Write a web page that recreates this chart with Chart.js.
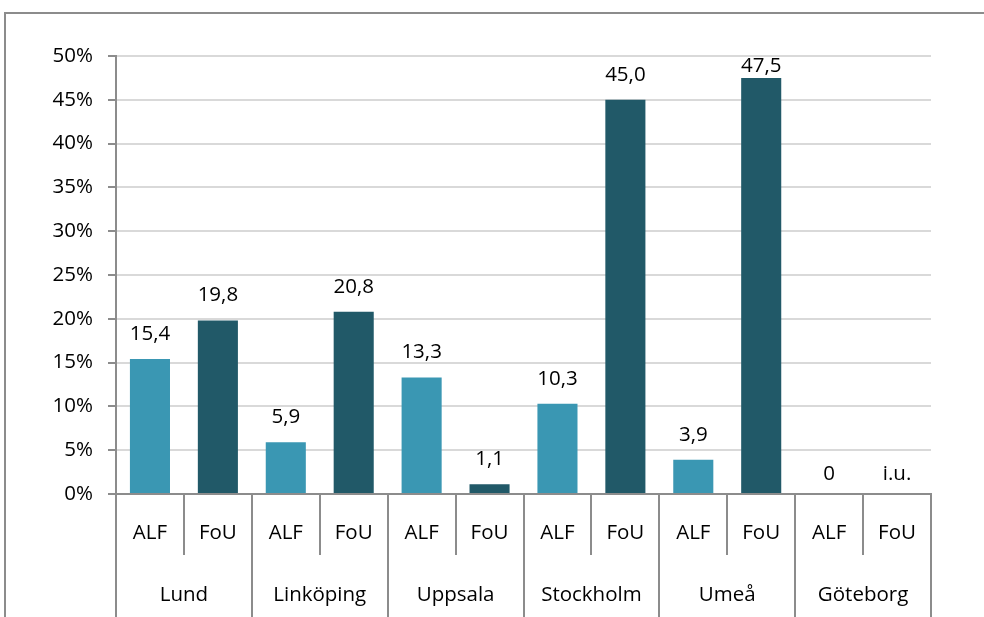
<!DOCTYPE html>
<html>
<head>
<meta charset="utf-8">
<script src="https://cdn.jsdelivr.net/npm/chart.js@4"></script>
<style>
  html, body { margin: 0; padding: 0; background: #fff; }
  #wrap { position: absolute; left: 0; top: 0; width: 984px; height: 617px; }
  #frame { position: absolute; left: 4px; top: 12px; width: 990px; height: 620px;
           border-left: 2px solid #8c8c8c; border-top: 2px solid #8c8c8c; pointer-events: none; }
</style>
</head>
<body>
<div id="wrap"><canvas id="c" width="984" height="617"></canvas></div>
<div id="frame"></div>
<script>
// ---- data ----
const cities = ['Lund', 'Linköping', 'Uppsala', 'Stockholm', 'Umeå', 'Göteborg'];
const kinds = ['ALF', 'FoU'];
const alfValues = [15.4, 5.9, 13.3, 10.3, 3.9, 0];
const fouValues = [19.8, 20.8, 1.1, 45.0, 47.5, null];
const missingLabel = 'i.u.';
const yMax = 50;
const yStep = 5;

// ---- build ----
const subLabels = [];
const values = [];
const kindOf = [];
cities.forEach((c, i) => {
  subLabels.push(kinds[0]); values.push(alfValues[i]); kindOf.push(0);
  subLabels.push(kinds[1]); values.push(fouValues[i]); kindOf.push(1);
});
const kindColors = ['#3A97B3', '#215968'];
const FONT = { family: "'Open Sans', sans-serif", size: 20.5 };
const AXIS = '#8c8c8c';

const valueLabels = {
  id: 'valueLabels',
  afterDatasetsDraw(chart) {
    const ctx = chart.ctx;
    const meta = chart.getDatasetMeta(0);
    const yScale = chart.scales.y;
    const area = chart.chartArea;
    ctx.save();
    ctx.font = `${FONT.size}px ${FONT.family}`;
    ctx.fillStyle = '#000';
    ctx.textAlign = 'center';
    ctx.textBaseline = 'middle';
    meta.data.forEach((bar, i) => {
      const v = values[i];
      let txt, top;
      if (v === null || v === undefined) {
        txt = missingLabel;
        top = yScale.getPixelForValue(0);
      } else {
        txt = v === 0 ? '0' : v.toFixed(1).replace('.', ',');
        top = yScale.getPixelForValue(v);
      }
      const off = v ? 25 : 20;
      const y = Math.max(top - off, area.top + 10);
      ctx.fillText(txt, bar.x, y);
    });
    ctx.restore();
  }
};

new Chart(document.getElementById('c'), {
  type: 'bar',
  data: {
    labels: subLabels,
    datasets: [{
      data: values,
      backgroundColor: kindOf.map(k => kindColors[k]),
      borderWidth: 0,
      barPercentage: 0.59,
      categoryPercentage: 1.0
    }]
  },
  options: {
    responsive: false,
    animation: false,
    events: [],
    layout: { padding: { left: 0, right: 53, top: 56, bottom: 0 } },
    plugins: { legend: { display: false }, tooltip: { enabled: false } },
    scales: {
      y: {
        min: 0, max: yMax,
        ticks: {
          stepSize: yStep,
          callback: v => v + '%',
          font: FONT, color: '#000', padding: 15
        },
        grid: { color: '#d9d9d9', lineWidth: 2, tickLength: 8, tickColor: AXIS },
        border: { display: true, color: AXIS, width: 2 },
        afterFit(s) { s.width = 116; }
      },
      x: {
        type: 'category',
        position: 'bottom',
        offset: true,
        weight: 0,
        grid: { offset: true, drawOnChartArea: false, tickLength: 61, color: AXIS, lineWidth: 2 },
        border: { display: true, color: AXIS, width: 2 },
        ticks: { font: FONT, color: '#000', padding: -34, maxRotation: 0, autoSkip: false },
        afterFit(s) { s.height = 61; }
      },
      x2: {
        type: 'category',
        labels: cities,
        position: 'bottom',
        offset: true,
        weight: 1,
        grid: { offset: true, drawOnChartArea: false, tickLength: 62, color: AXIS, lineWidth: 2 },
        border: { display: false },
        ticks: { font: FONT, color: '#000', padding: -34, maxRotation: 0, autoSkip: false },
        afterFit(s) { s.height = 62; }
      }
    }
  },
  plugins: [valueLabels]
});
</script>
</body>
</html>
